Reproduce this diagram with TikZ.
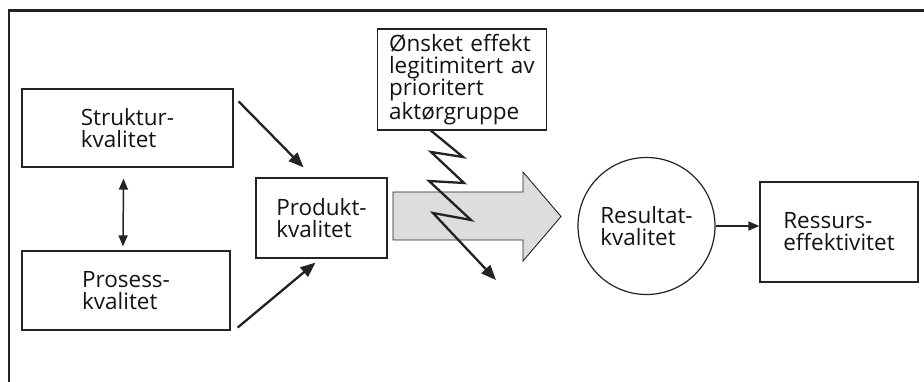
\documentclass[tikz,border=0pt]{standalone}
\usepackage{fontspec}
\setmainfont{Open Sans}
\usepackage{tikz}
\usetikzlibrary{positioning, arrows.meta, calc}
\definecolor{kvline}{RGB}{35, 35, 35}
\definecolor{kvtext}{RGB}{20, 18, 18}
\definecolor{kvgray}{RGB}{220, 221, 222}

\tikzset{
    kvbox/.style={draw=kvline, line width=1.2pt, rectangle, align=left,
        text=kvtext, inner sep=0pt,
        font=\fontsize{22.5}{22}\selectfont},
    bigtip/.style={-{Triangle[length=15pt, width=12pt]}, line width=2.3pt, kvline},
    smalltip/.style={-{Triangle[length=11pt, width=9pt]}, line width=1.5pt, kvline},
    bothtips/.style={{Triangle[length=11pt, width=9pt]}-{Triangle[length=11pt, width=9pt]}, line width=1.5pt, kvline}
}

\begin{document}
\begin{tikzpicture}[x=1pt, y=-1pt]
        \useasboundingbox (0,0) rectangle (924,382);

        % Frame (only top and left edge are visible)
        \draw[kvline, line width=2.4pt] (9,382) -- (9,10.5) -- (924,10.5);

        % Left column
        \node[kvbox, minimum width=211pt, minimum height=78pt] (struktur) at (127.5,128) {Struktur-\\kvalitet};
        \node[kvbox, minimum width=208pt, minimum height=79pt] (prosess) at (126,290.5) {Prosess-\\kvalitet};
        \draw[bothtips] ($(struktur.south)+(-4,11)$) -- ($(prosess.north)+(-3,-4)$);

        % Middle
        \node[kvbox, minimum width=131pt, minimum height=80pt] (produkt) at (321.5,218) {Produkt-\\kvalitet};
        \draw[bigtip] ($(struktur.north east)+(5,13)$) -- ($(produkt.north)+(-18,-10)$);
        \draw[bigtip] ($(prosess.south east)+(7,-3)$) -- ($(produkt.south)+(-6,4)$);

        % Big arrow
        \draw[fill=kvgray, draw=kvline, line width=0.9pt]
            (393,192) -- (523,192) -- (523,172) -- (561,216.5) -- (523,261) -- (523,240) -- (393,240) -- cycle;

        % Wanted effect box and lightning
        \node[kvbox, minimum width=169pt, minimum height=101pt, text width=146pt] (onsket) at (462,79.5)
            {Ønsket effekt\\legitimitert av\\prioritert\\aktørgruppe};
        \coordinate (zigend) at (496,280);
        \draw[bigtip] ($(onsket.south west)+(54,0)$) -- (463,157) -- (431,152) -- (464,183)
            -- (429,181) -- (471,220) -- (433,213) -- (zigend);

        % Right side
        \node[kvbox, circle, minimum size=137pt] (resultat) at (646.5,226) {Resultat-\\kvalitet};
        \node[kvbox, minimum width=158pt, minimum height=100pt] (ressurs) at (839,232) {Ressurs-\\effektivitet};
        \draw[smalltip] (resultat.east) -- (resultat.east -| ressurs.west);
    \end{tikzpicture}
\end{document}
